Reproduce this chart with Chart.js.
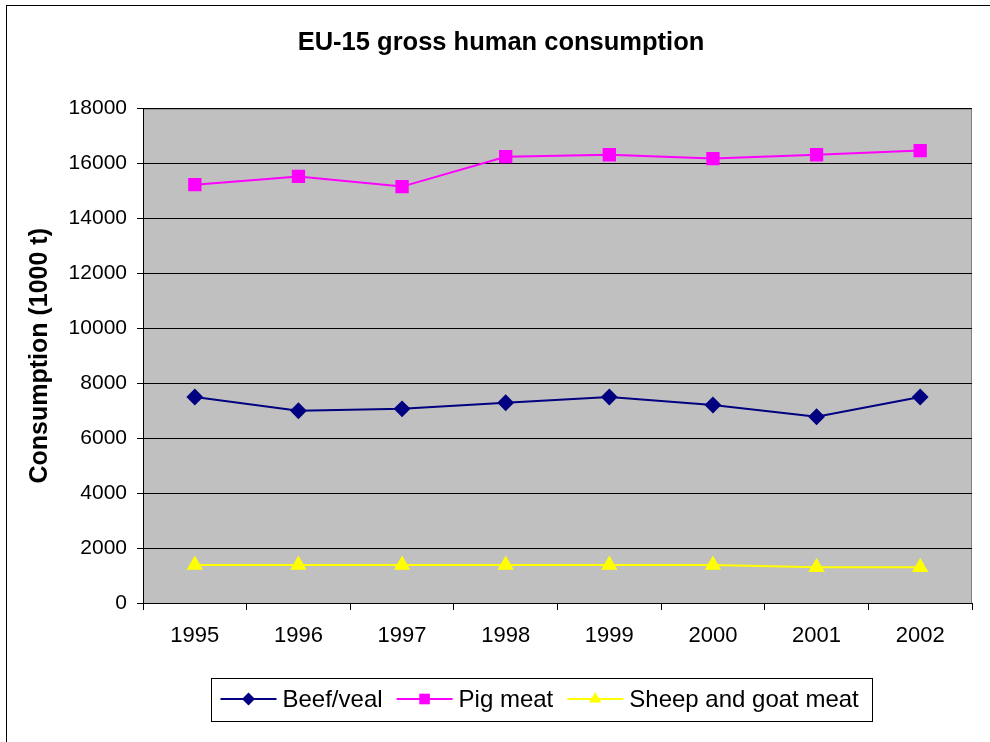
<!DOCTYPE html>
<html>
<head>
<meta charset="utf-8">
<script src="https://cdn.jsdelivr.net/npm/chart.js@4.4.1/dist/chart.umd.min.js"></script>
<style>
  body { margin: 0; background: #fff; }
  canvas { display: block; }
</style>
</head>
<body>
<canvas id="chart" width="990" height="742"></canvas>
<script>
const years = ["1995", "1996", "1997", "1998", "1999", "2000", "2001", "2002"];
const beefVeal = [7500, 7000, 7070, 7290, 7500, 7210, 6780, 7500];
const pigMeat = [15230, 15530, 15160, 16250, 16320, 16180, 16320, 16470];
const sheepGoat = [1380, 1380, 1380, 1380, 1380, 1380, 1300, 1300];
const yMin = 0;
const yMax = 18000;
const yStep = 2000;

const FONT = "'Liberation Sans', Arial, Helvetica, sans-serif";

// grey plot area + outer frame
const plotBackground = {
  id: "plotBackground",
  beforeDraw(chart) {
    const { ctx, chartArea: a } = chart;
    ctx.save();
    ctx.strokeStyle = "#000";
    ctx.lineWidth = 1;
    ctx.strokeRect(6.5, 5.5, 1100, 1100);
    ctx.fillStyle = "#c0c0c0";
    ctx.fillRect(a.left, a.top, a.right - a.left, a.bottom - a.top);
    ctx.strokeStyle = "#808080";
    ctx.strokeRect(a.left + 0.5, a.top + 0.5, a.right - a.left - 1, a.bottom - a.top);
    ctx.restore();
  }
};

// boxed legend with line + marker samples
const boxLegend = {
  id: "boxLegend",
  afterDraw(chart) {
    const ctx = chart.ctx;
    const box = { left: 211.5, top: 678.5, right: 872.5, bottom: 721.5 };
    const cy = 699;
    ctx.save();
    ctx.strokeStyle = "#000";
    ctx.lineWidth = 1;
    ctx.strokeRect(box.left, box.top, box.right - box.left, box.bottom - box.top);
    ctx.font = "24px " + FONT;
    ctx.textBaseline = "middle";
    let x = box.left + 9;
    chart.data.datasets.forEach(ds => {
      ctx.strokeStyle = ds.borderColor;
      ctx.lineWidth = 2;
      ctx.beginPath();
      ctx.moveTo(x, cy);
      ctx.lineTo(x + 56, cy);
      ctx.stroke();
      ctx.fillStyle = ds.pointBackgroundColor;
      ctx.strokeStyle = ds.pointBackgroundColor;
      Chart.helpers.drawPoint(ctx, {
        pointStyle: ds.pointStyle,
        radius: ds.pointRadius - 0.5,
        rotation: 0,
        borderWidth: 0
      }, x + 28, cy);
      ctx.fillStyle = "#000";
      ctx.fillText(ds.label, x + 62, cy + 1);
      x += 62 + ctx.measureText(ds.label).width + 14;
    });
    ctx.restore();
  }
};

new Chart(document.getElementById("chart"), {
  type: "line",
  data: {
    labels: years,
    datasets: [
      {
        label: "Beef/veal",
        data: beefVeal,
        borderColor: "#000080",
        pointBackgroundColor: "#000080",
        pointBorderColor: "#000080",
        pointStyle: "rectRot",
        pointRadius: 7,
        borderWidth: 2
      },
      {
        label: "Pig meat",
        data: pigMeat,
        borderColor: "#ff00ff",
        pointBackgroundColor: "#ff00ff",
        pointBorderColor: "#ff00ff",
        pointStyle: "rect",
        pointRadius: 8,
        borderWidth: 2
      },
      {
        label: "Sheep and goat meat",
        data: sheepGoat,
        borderColor: "#ffff00",
        pointBackgroundColor: "#ffff00",
        pointBorderColor: "#ffff00",
        pointStyle: "triangle",
        pointRadius: 7.5,
        borderWidth: 2
      }
    ]
  },
  options: {
    responsive: false,
    animation: false,
    layout: { padding: { left: 30, right: 18, top: 0, bottom: 99 } },
    elements: { line: { tension: 0 }, point: { borderWidth: 1 } },
    plugins: {
      legend: { display: false },
      tooltip: { enabled: false },
      title: {
        display: true,
        text: "EU-15 gross human consumption",
        color: "#000",
        font: { family: FONT, size: 25.5, weight: "bold" },
        padding: { top: 28, bottom: 50 }
      }
    },
    scales: {
      x: {
        offset: true,
        grid: {
          offset: true,
          drawOnChartArea: false,
          drawTicks: true,
          tickLength: 7,
          color: "#000"
        },
        border: { color: "#000", width: 1 },
        ticks: {
          color: "#000",
          font: { family: FONT, size: 22 },
          padding: 13,
          maxRotation: 0
        },
        afterFit(scale) { scale.height = 40; }
      },
      y: {
        min: yMin,
        max: yMax,
        grid: { color: "#000", tickLength: 6 },
        border: { color: "#000", width: 1 },
        ticks: {
          stepSize: yStep,
          color: "#000",
          font: { family: FONT, size: 21 },
          padding: 10,
          callback: v => String(v)
        },
        title: {
          display: true,
          text: "Consumption (1000 t)",
          color: "#000",
          font: { family: FONT, size: 25, weight: "bold" },
          padding: { top: -5, bottom: 0 }
        },
        afterFit(scale) { scale.width = 113; }
      }
    }
  },
  plugins: [plotBackground, boxLegend]
});
</script>
</body>
</html>
